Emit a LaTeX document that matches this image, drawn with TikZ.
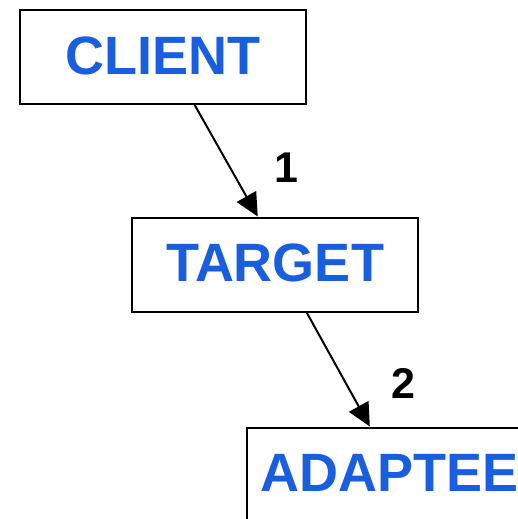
\documentclass[tikz,border=0pt]{standalone}
\usepackage{fontspec}
\setmainfont{Liberation Sans}
\usetikzlibrary{arrows.meta,calc}
\definecolor{labelblue}{RGB}{26,94,224}
\tikzset{
  classbox/.style={draw=black, line width=2pt, fill=white, inner sep=0pt,
    minimum width=286pt, minimum height=94pt,
    font=\fontsize{54}{60}\selectfont\bfseries, text=labelblue,
    text height=38.7pt, text depth=4pt},
  link/.style={line width=2pt, -{Triangle[length=23pt,width=22pt]}},
  stepnum/.style={font=\fontsize{43}{50}\selectfont\bfseries, inner sep=0pt}
}
\begin{document}
\begin{tikzpicture}[x=1pt,y=-1pt]
  \useasboundingbox (0,0) rectangle (518,519);
  \clip (0,0) rectangle (518,519);
  \node[classbox] (client)  at (163,57)     {CLIENT};
  \node[classbox] (target)  at (275,264.5)  {TARGET};
  \node[classbox] (adaptee) at (390,474.5)  {ADAPTEE};
  \coordinate (c1) at ($(client.south west)!0.61!(client.south east)$);
  \coordinate (t1) at ($(target.north west)!0.44!(target.north east)$);
  \coordinate (t2) at ($(target.south west)!0.61!(target.south east)$);
  \coordinate (a1) at ($(adaptee.north west)!0.43!(adaptee.north east)$);
  \draw[link] (c1) -- (t1);
  \draw[link] (t2) -- (a1);
  \node[stepnum] (n1) at (286,167.5) {1};
  \node[stepnum] (n2) at (403,383) {2};
\end{tikzpicture}
\end{document}
